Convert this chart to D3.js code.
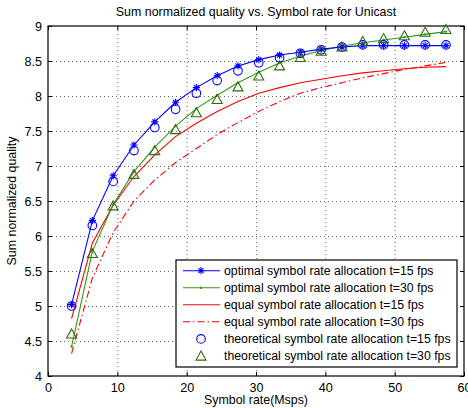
<!DOCTYPE html>
<html><head><meta charset="utf-8">
<script src="https://cdn.jsdelivr.net/npm/d3@7"></script>
<style>body{margin:0;background:#fff}svg{display:block;font-family:"Liberation Sans",Arial,sans-serif}</style>
</head><body>
<svg id="c" width="468" height="408"></svg>
<script>
const symbolRate = [3.4,6.4,9.4,12.4,15.4,18.4,21.4,24.4,27.4,30.4,33.4,36.4,39.4,42.4,45.4,48.4,51.4,54.4,57.4];
const optimal15 = [5.02,6.22,6.86,7.30,7.63,7.91,8.12,8.29,8.43,8.52,8.585,8.625,8.67,8.70,8.72,8.72,8.72,8.72,8.72];
const optimal30 = [4.42,5.78,6.45,6.92,7.27,7.57,7.82,8.01,8.19,8.34,8.47,8.57,8.65,8.71,8.76,8.80,8.84,8.88,8.92];
const equal15 = [4.82,5.90,6.44,6.85,7.16,7.42,7.61,7.78,7.92,8.04,8.12,8.19,8.24,8.29,8.33,8.36,8.39,8.41,8.42];
const equal30 = [4.32,5.40,6.05,6.50,6.80,7.05,7.25,7.45,7.62,7.78,7.92,8.04,8.12,8.19,8.26,8.32,8.38,8.43,8.48];
const theory15 = [5.0,6.15,6.78,7.22,7.55,7.81,8.04,8.22,8.36,8.475,8.547,8.61,8.66,8.70,8.73,8.73,8.73,8.73,8.73];
const theory30 = [4.6,5.75,6.43,6.88,7.22,7.52,7.76,7.95,8.13,8.285,8.43,8.55,8.64,8.70,8.78,8.82,8.86,8.91,8.95];
const xTicks = [0,10,20,30,40,50,60];
const yTicks = [4,4.5,5,5.5,6,6.5,7,7.5,8,8.5,9];
const legendLabels = ["optimal symbol rate allocation t=15 fps","optimal symbol rate allocation t=30 fps","equal symbol rate allocation t=15 fps","equal symbol rate allocation t=30 fps","theoretical symbol rate allocation t=15 fps","theoretical symbol rate allocation t=30 fps"];

const svg = d3.select("#c");
const L=48,R=464,T=26,B=376;
const x = d3.scaleLinear().domain([0,60]).range([L,R]);
const y = d3.scaleLinear().domain([4,9]).range([B,T]);
const g = svg.append("g");

// grid
g.selectAll(".gx").data(xTicks.slice(1,-1)).enter().append("line")
 .attr("x1",d=>x(d)+0.5).attr("x2",d=>x(d)+0.5).attr("y1",T).attr("y2",B)
 .attr("stroke","#666").attr("stroke-dasharray","1,3");
g.selectAll(".gy").data(yTicks.slice(1,-1)).enter().append("line")
 .attr("y1",d=>Math.round(y(d))+0.5).attr("y2",d=>Math.round(y(d))+0.5).attr("x1",L).attr("x2",R)
 .attr("stroke","#666").attr("stroke-dasharray","1,3");

// axes
const ax = d3.axisBottom(x).tickValues(xTicks).tickSize(-4).tickPadding(7).tickFormat(d3.format("d"));
const ay = d3.axisLeft(y).tickValues(yTicks).tickSize(-4).tickPadding(6).tickFormat(d=>String(d));
const gx = svg.append("g").attr("transform",`translate(0,${B})`).call(ax);
const gy = svg.append("g").attr("transform",`translate(${L},0)`).call(ay);
svg.append("g").attr("transform",`translate(0,${T})`).call(d3.axisTop(x).tickValues(xTicks).tickSize(-4).tickFormat(""));
svg.append("g").attr("transform",`translate(${R},0)`).call(d3.axisRight(y).tickValues(yTicks).tickSize(-4).tickFormat(""));
svg.selectAll(".domain").remove();
svg.selectAll(".tick line").attr("stroke","#000");
svg.selectAll(".tick text").attr("font-size",12.6).attr("fill","#000").attr("font-family","Liberation Sans, Arial, sans-serif");
svg.append("rect").attr("x",L).attr("y",T).attr("width",R-L).attr("height",B-T).attr("fill","none").attr("stroke","#000").attr("stroke-width",1.2);

const line = d3.line().x((d,i)=>x(symbolRate[i])).y(d=>y(d));
const plot = svg.append("g");
plot.append("path").datum(equal30).attr("d",line).attr("fill","none").attr("stroke","#ff0000").attr("stroke-width",1.1).attr("stroke-dasharray","7,3,1.5,3");
plot.append("path").datum(equal15).attr("d",line).attr("fill","none").attr("stroke","#ff0000").attr("stroke-width",1.1);
plot.append("path").datum(optimal30).attr("d",line).attr("fill","none").attr("stroke","#2e9a12").attr("stroke-width",1.1);
plot.selectAll(".d30").data(optimal30).enter().append("circle").attr("cx",(d,i)=>x(symbolRate[i])).attr("cy",d=>y(d)).attr("r",1.2).attr("fill","#2e9a12");
plot.append("path").datum(optimal15).attr("d",line).attr("fill","none").attr("stroke","#0000ff").attr("stroke-width",1.1);

function star(gs,cx,cy,c){
  const s=3.6;
  gs.append("path").attr("d",`M${cx-s},${cy}H${cx+s}M${cx},${cy-s}V${cy+s}M${cx-s*0.7},${cy-s*0.7}L${cx+s*0.7},${cy+s*0.7}M${cx-s*0.7},${cy+s*0.7}L${cx+s*0.7},${cy-s*0.7}`).attr("stroke",c).attr("stroke-width",1.1).attr("fill","none");
}
function tri(gs,cx,cy,c){
  const s=5;
  gs.append("path").attr("d",`M${cx},${cy-s}L${cx+s},${cy+s*0.8}L${cx-s},${cy+s*0.8}Z`).attr("stroke",c).attr("stroke-width",1.1).attr("fill","none");
}
optimal15.forEach((d,i)=>star(plot,x(symbolRate[i]),y(d),"#0000ff"));
plot.selectAll(".t15").data(theory15).enter().append("circle").attr("cx",(d,i)=>x(symbolRate[i])).attr("cy",d=>y(d)).attr("r",4.3).attr("fill","none").attr("stroke","#0000ff").attr("stroke-width",1.1);
theory30.forEach((d,i)=>tri(plot,x(symbolRate[i]),y(d),"#2f6b10"));

// title & labels
svg.append("text").attr("x",(L+R)/2).attr("y",16).attr("text-anchor","middle").attr("font-size",12.4).text("Sum normalized quality vs. Symbol rate for Unicast");
svg.append("text").attr("x",(L+R)/2).attr("y",404).attr("text-anchor","middle").attr("font-size",12.4).text("Symbol rate(Msps)");
svg.append("text").attr("transform",`translate(16,${(T+B)/2}) rotate(-90)`).attr("text-anchor","middle").attr("font-size",12.4).text("Sum normalized quality");

// legend
const lg = svg.append("g");
lg.append("rect").attr("x",176).attr("y",260).attr("width",281).attr("height",107).attr("fill","#fff").attr("stroke","#000").attr("stroke-width",1.2);
const rows=[270.7,287.7,304.7,321.7,338.9,356.1];
const lx1=183,lx2=220,lm=201;
lg.append("line").attr("x1",lx1).attr("x2",lx2).attr("y1",rows[0]).attr("y2",rows[0]).attr("stroke","#0000ff").attr("stroke-width",1.1);
star(lg,lm,rows[0],"#0000ff");
lg.append("line").attr("x1",lx1).attr("x2",lx2).attr("y1",rows[1]).attr("y2",rows[1]).attr("stroke","#2e9a12").attr("stroke-width",1.1);
lg.append("circle").attr("cx",lm).attr("cy",rows[1]).attr("r",1.2).attr("fill","#2e9a12");
lg.append("line").attr("x1",lx1).attr("x2",lx2).attr("y1",rows[2]).attr("y2",rows[2]).attr("stroke","#ff0000").attr("stroke-width",1.1);
lg.append("line").attr("x1",lx1).attr("x2",lx2).attr("y1",rows[3]).attr("y2",rows[3]).attr("stroke","#ff0000").attr("stroke-width",1.1).attr("stroke-dasharray","7,3,1.5,3");
lg.append("circle").attr("cx",lm).attr("cy",rows[4]).attr("r",4.3).attr("fill","none").attr("stroke","#0000ff").attr("stroke-width",1.1);
tri(lg,lm,rows[5],"#2f6b10");
lg.selectAll(".lt").data(legendLabels).enter().append("text").attr("x",224).attr("y",(d,i)=>rows[i]+4.3).attr("font-size",12.3).text(d=>d);
</script>
</body></html>
